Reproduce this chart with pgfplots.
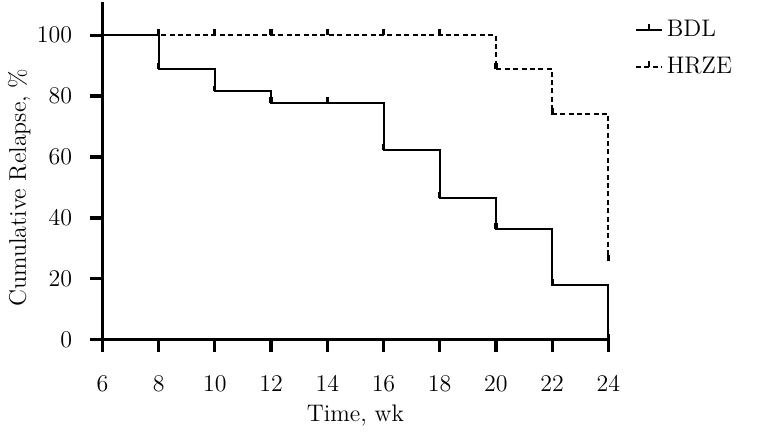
\documentclass[border=0pt]{standalone}
\usepackage{pgfplots}
\pgfplotsset{compat=1.18}

% censoring tick: short upward stroke from the data point
\pgfdeclareplotmark{cens}{%
  \pgfpathmoveto{\pgfpoint{0pt}{0pt}}%
  \pgfpathlineto{\pgfpoint{0pt}{\pgfplotmarksize}}%
  \pgfusepathqstroke}

\begin{document}
\fontsize{12}{14}\selectfont
\begin{tikzpicture}
\begin{axis}[
    scale only axis, clip=false,
    width=253.5pt, height=169.5pt,
    xmin=6, xmax=24, ymin=0, ymax=111,
    xtick={6,8,...,24},
    ytick={0,20,...,100},
    axis x line=bottom, axis y line=left,
    axis line style={line width=1.6pt,-},
    tick style={line width=1.6pt,black},
    major tick length=6pt,
    tick align=outside,
    yticklabel style={xshift=-5pt},
    xticklabel style={yshift=-8pt},
    xlabel={Time, wk},
    xlabel style={yshift=1.5pt},
    ylabel={Cumulative Relapse, \%},
    ylabel style={at={(ticklabel cs:0.45)}},
    ylabel shift=-5pt,
    legend cell align=left,
    legend style={draw=none, fill=none, at={(1.04,0.97)}, anchor=north west,
        row sep=4.5pt, /tikz/every even column/.append style={column sep=8pt}},
    legend image code/.code={
        \draw[#1] (0pt,0pt) -- (13pt,0pt);
        \draw[line width=1.4pt,solid] (6.5pt,0pt) -- (6.5pt,3pt);},
]
\addplot [const plot, line width=1pt, black] coordinates {
    (6,100) (8,88.9) (10,81.5) (12,77.6) (16,62.2) (18,46.7) (20,36.4) (22,18.1) (24,0)
};
\addlegendentry{BDL}
\addplot [const plot, line width=1pt, black, dash pattern=on 2.5pt off 1.7pt] coordinates {
    (6,100) (20,89.0) (22,74.2) (24,25.8)
};
\addlegendentry{HRZE}
% censoring marks
\addplot [only marks, mark=cens, mark size=3pt, line width=1.6pt, black, forget plot] coordinates {
    (8,88.9) (10,81.5) (12,77.6) (14,77.6) (16,62.2) (18,46.7) (20,36.4) (22,18.1) (24,0)
};
\addplot [only marks, mark=cens, mark size=3pt, line width=1.6pt, black, forget plot] coordinates {
    (8,100) (10,100) (12,100) (14,100) (16,100) (18,100) (20,89.0) (22,74.2) (24,25.8)
};
\end{axis}
\path ([xshift=75pt,yshift=-47.5pt]current axis.south east);
\end{tikzpicture}
\end{document}
